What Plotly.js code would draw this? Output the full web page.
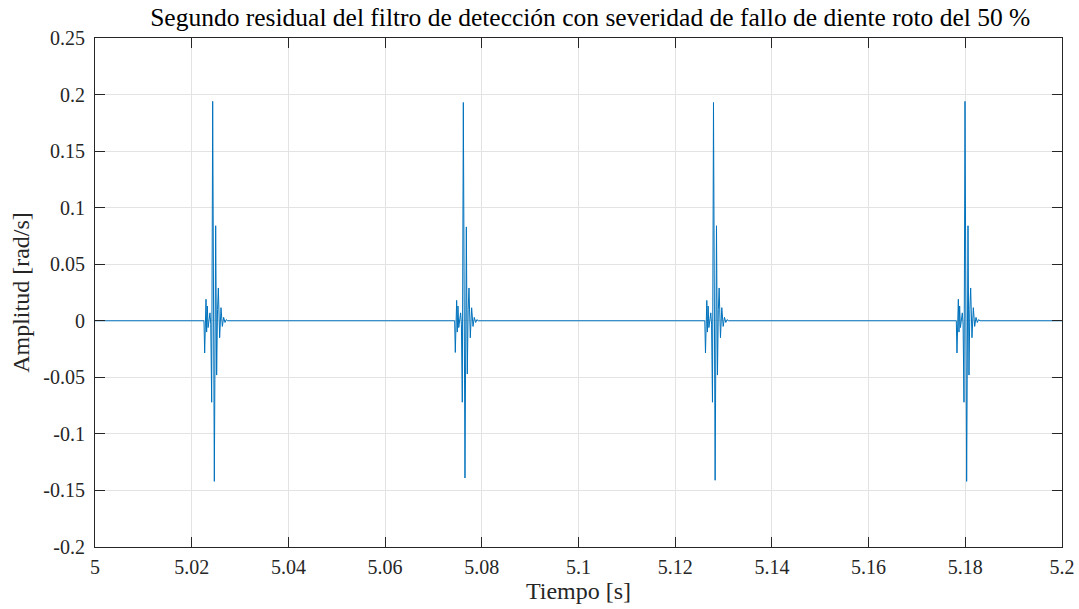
<!DOCTYPE html>
<html>
<head>
<meta charset="utf-8">
<script src="https://cdn.plot.ly/plotly-3.0.1.min.js"></script>
<style>html,body{margin:0;padding:0;background:#fff;}#chart{width:1079px;height:609px;}</style>
</head>
<body>
<div id="chart"></div>
<script>
// Time range of the record
const tStart = 5.0;
const tEnd = 5.2;
// Times of the main peak of each burst (s)
const burstPeaks = [5.02434, 5.07618, 5.12792, 5.17994];
// Sample time offsets relative to each peak (s)
const offsets = [-0.00180, -0.00166, -0.00152, -0.00138, -0.00125, -0.00111, -0.00095, -0.00075, -0.00056, -0.00040, -0.00021, 0.0, 0.00034, 0.00062, 0.00082, 0.00100, 0.00117, 0.00144, 0.00160, 0.00172, 0.00200, 0.00227, 0.00255, 0.00280, 0.00310];
// Residual values of each burst (rad/s)
const burst1 = [0, -0.0285, 0.004, 0.019, -0.010, 0.013, -0.006, 0.004, 0.007, -0.003, -0.072, 0.194, -0.142, 0.084, -0.048, 0.010, 0.029, -0.015, 0.004, 0.0116, -0.005, 0.003, -0.0015, 0.001, 0];
const burst2 = [0, -0.0280, 0.004, 0.018, -0.010, 0.013, -0.006, 0.004, 0.007, -0.003, -0.072, 0.193, -0.139, 0.083, -0.047, 0.010, 0.029, -0.015, 0.004, 0.0115, -0.005, 0.003, -0.0015, 0.001, 0];
const burst3 = [0, -0.0285, 0.004, 0.018, -0.010, 0.013, -0.006, 0.004, 0.007, -0.003, -0.072, 0.193, -0.141, 0.084, -0.048, 0.010, 0.029, -0.015, 0.004, 0.0116, -0.005, 0.003, -0.0015, 0.001, 0];
const burst4 = [0, -0.0285, 0.004, 0.019, -0.010, 0.013, -0.006, 0.004, 0.007, -0.003, -0.072, 0.194, -0.142, 0.084, -0.048, 0.010, 0.029, -0.015, 0.004, 0.0116, -0.005, 0.003, -0.0015, 0.001, 0];
const bursts = [burst1, burst2, burst3, burst4];

const xTickVals = [5, 5.02, 5.04, 5.06, 5.08, 5.1, 5.12, 5.14, 5.16, 5.18, 5.2];
const xTickText = ["5", "5.02", "5.04", "5.06", "5.08", "5.1", "5.12", "5.14", "5.16", "5.18", "5.2"];
const yTickVals = [-0.2, -0.15, -0.1, -0.05, 0, 0.05, 0.1, 0.15, 0.2, 0.25];
const yTickText = ["-0.2", "-0.15", "-0.1", "-0.05", "0", "0.05", "0.1", "0.15", "0.2", "0.25"];

const xs = [tStart], ys = [0];
burstPeaks.forEach((p, i) => {
  offsets.forEach((o, j) => { xs.push(p + o); ys.push(bursts[i][j]); });
});
xs.push(tEnd); ys.push(0);

const font = 'Liberation Serif, Times New Roman, serif';
const axisCommon = {
  showline: true, linecolor: '#262626', linewidth: 1, mirror: 'ticks',
  ticks: 'inside', ticklen: 10, tickcolor: '#262626', tickwidth: 1,
  showgrid: true, gridcolor: '#e3e3e3', gridwidth: 1, zeroline: false,
  automargin: false,
  tickfont: {family: font, size: 20, color: '#262626'}
};

const layout = {
  width: 1079, height: 609,
  margin: {l: 95, r: 17, t: 38, b: 62},
  paper_bgcolor: '#ffffff', plot_bgcolor: '#ffffff',
  showlegend: false,
  title: {text: 'Segundo residual del filtro de detección con severidad de fallo de diente roto del 50 %',
          font: {family: font, size: 25.5, color: '#000'}, x: 0.547, xanchor: 'center', y: 0.972, yanchor: 'middle'},
  xaxis: Object.assign({}, axisCommon, {
    range: [tStart, tEnd], tickvals: xTickVals, ticktext: xTickText,
    ticklabelstandoff: 2,
    title: {text: 'Tiempo [s]', font: {family: font, size: 24, color: '#262626'}, standoff: 3}
  }),
  yaxis: Object.assign({}, axisCommon, {
    range: [-0.2, 0.25], tickvals: yTickVals, ticktext: yTickText,
    ticklabelstandoff: 5,
    title: {text: 'Amplitud [rad/s]', font: {family: font, size: 24, color: '#262626'}, standoff: 6}
  })
};

Plotly.newPlot('chart', [{
  x: xs, y: ys, type: 'scatter', mode: 'lines',
  line: {color: '#0072BD', width: 1}, hoverinfo: 'skip'
}], layout, {displayModeBar: false, staticPlot: true});
</script>
</body>
</html>
